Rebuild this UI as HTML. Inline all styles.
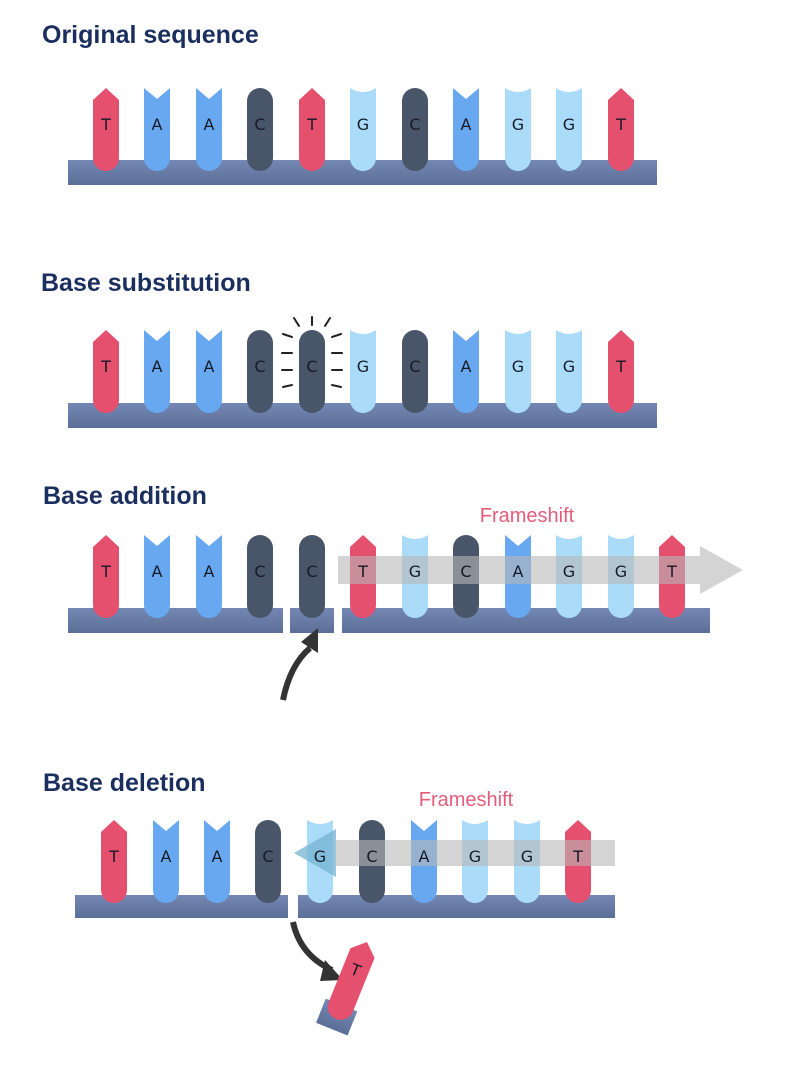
<!DOCTYPE html>
<html><head><meta charset="utf-8"><style>
html,body{margin:0;padding:0;background:#fff;}
svg{display:block}
.t{font-family:"Liberation Sans",sans-serif;font-weight:bold;font-size:25px;fill:#1b2f5e}
.l{font-family:"DejaVu Sans","Liberation Sans",sans-serif;font-size:16px;fill:#161a26;text-anchor:middle}
.f{font-family:"Liberation Sans",sans-serif;font-size:20px;fill:#e35d7a;text-anchor:middle}
</style></head><body>
<svg width="788" height="1080" viewBox="0 0 788 1080" xmlns="http://www.w3.org/2000/svg">
<defs>
<linearGradient id="bb" x1="0" y1="0" x2="0" y2="1"><stop offset="0" stop-color="#7488b3"/><stop offset="1" stop-color="#5a6e98"/></linearGradient>
<path id="T" d="M-13,12 L0,0 L13,12 L13,70 A13,13 0 0 1 -13,70 Z" fill="#e6506f"/>
<path id="A" d="M-13,0 L0,11 L13,0 L13,70 A13,13 0 0 1 -13,70 Z" fill="#67a8f0"/>
<path id="C" d="M-13,13 A13,13 0 0 1 13,13 L13,70 A13,13 0 0 1 -13,70 Z" fill="#495569"/>
<path id="G" d="M-13,0 Q0,8 13,0 L13,70 A13,13 0 0 1 -13,70 Z" fill="#aadcfa"/>
</defs>

<text class="t" x="42" y="43">Original sequence</text>
<text class="t" x="41" y="291">Base substitution</text>
<text class="t" x="43" y="504">Base addition</text>
<text class="t" x="43" y="791">Base deletion</text>

<!-- Row 1 -->
<rect x="68" y="160" width="589" height="25" fill="url(#bb)"/>
<g transform="translate(0,88)">
<use href="#T" x="106"/><use href="#A" x="157"/><use href="#A" x="209"/><use href="#C" x="260"/><use href="#T" x="312"/><use href="#G" x="363"/><use href="#C" x="415"/><use href="#A" x="466"/><use href="#G" x="518"/><use href="#G" x="569"/><use href="#T" x="621"/>
<text class="l" x="106" y="42">T</text><text class="l" x="157" y="42">A</text><text class="l" x="209" y="42">A</text><text class="l" x="260" y="42">C</text><text class="l" x="312" y="42">T</text><text class="l" x="363" y="42">G</text><text class="l" x="415" y="42">C</text><text class="l" x="466" y="42">A</text><text class="l" x="518" y="42">G</text><text class="l" x="569" y="42">G</text><text class="l" x="621" y="42">T</text>
</g>

<!-- Row 2 -->
<rect x="68" y="403" width="589" height="25" fill="url(#bb)"/>
<g transform="translate(0,330)">
<use href="#T" x="106"/><use href="#A" x="157"/><use href="#A" x="209"/><use href="#C" x="260"/><use href="#C" x="312"/><use href="#G" x="363"/><use href="#C" x="415"/><use href="#A" x="466"/><use href="#G" x="518"/><use href="#G" x="569"/><use href="#T" x="621"/>
<text class="l" x="106" y="42">T</text><text class="l" x="157" y="42">A</text><text class="l" x="209" y="42">A</text><text class="l" x="260" y="42">C</text><text class="l" x="312" y="42">C</text><text class="l" x="363" y="42">G</text><text class="l" x="415" y="42">C</text><text class="l" x="466" y="42">A</text><text class="l" x="518" y="42">G</text><text class="l" x="569" y="42">G</text><text class="l" x="621" y="42">T</text>
</g>
<g stroke="#222" stroke-width="2" stroke-linecap="round">
<line x1="294" y1="318" x2="299" y2="326"/><line x1="312" y1="317" x2="312" y2="325"/><line x1="330" y1="318" x2="325" y2="326"/>
<line x1="283" y1="334" x2="292" y2="337"/><line x1="341" y1="334" x2="332" y2="337"/>
<line x1="282" y1="353" x2="292" y2="353"/><line x1="332" y1="353" x2="342" y2="353"/>
<line x1="282" y1="370" x2="292" y2="370"/><line x1="332" y1="370" x2="342" y2="370"/>
<line x1="283" y1="387" x2="292" y2="385"/><line x1="332" y1="385" x2="341" y2="387"/>
</g>

<!-- Row 3 -->
<rect x="68" y="608" width="215" height="25" fill="url(#bb)"/>
<rect x="290" y="608" width="44" height="25" fill="url(#bb)"/>
<rect x="342" y="608" width="368" height="25" fill="url(#bb)"/>
<g transform="translate(0,535)">
<use href="#T" x="106"/><use href="#A" x="157"/><use href="#A" x="209"/><use href="#C" x="260"/><use href="#C" x="312"/><use href="#T" x="363"/><use href="#G" x="415"/><use href="#C" x="466"/><use href="#A" x="518"/><use href="#G" x="569"/><use href="#G" x="621"/><use href="#T" x="672"/>
</g>
<path d="M338,556 L700,556 L700,546 L743,570 L700,594 L700,584 L338,584 Z" fill="#b8b8b8" opacity="0.6"/>
<g transform="translate(0,535)">
<text class="l" x="106" y="42">T</text><text class="l" x="157" y="42">A</text><text class="l" x="209" y="42">A</text><text class="l" x="260" y="42">C</text><text class="l" x="312" y="42">C</text><text class="l" x="363" y="42">T</text><text class="l" x="415" y="42">G</text><text class="l" x="466" y="42">C</text><text class="l" x="518" y="42">A</text><text class="l" x="569" y="42">G</text><text class="l" x="621" y="42">G</text><text class="l" x="672" y="42">T</text>
</g>
<text class="f" x="527" y="522">Frameshift</text>
<path d="M283,700 Q290,665 310,648" stroke="#333" stroke-width="6" fill="none"/>
<path d="M301,642 L318,628 L318,653 Z" fill="#333"/>

<!-- Row 4 -->
<rect x="75" y="895" width="213" height="23" fill="url(#bb)"/>
<rect x="298" y="895" width="317" height="23" fill="url(#bb)"/>
<g transform="translate(0,820)">
<use href="#T" x="114"/><use href="#A" x="166"/><use href="#A" x="217"/><use href="#C" x="268"/><use href="#G" x="320"/><use href="#C" x="372"/><use href="#A" x="424"/><use href="#G" x="475"/><use href="#G" x="527"/><use href="#T" x="578"/>
</g>
<path d="M615,840 L336,840 L336,829 L294,853 L336,877 L336,866 L615,866 Z" fill="#b8b8b8" opacity="0.6"/>
<path d="M336,829 L294,853 L336,877 Z" fill="#3ab0e8" opacity="0.4"/>
<g transform="translate(0,820)">
<text class="l" x="114" y="42">T</text><text class="l" x="166" y="42">A</text><text class="l" x="217" y="42">A</text><text class="l" x="268" y="42">C</text><text class="l" x="320" y="42">G</text><text class="l" x="372" y="42">C</text><text class="l" x="424" y="42">A</text><text class="l" x="475" y="42">G</text><text class="l" x="527" y="42">G</text><text class="l" x="578" y="42">T</text>
</g>
<text class="f" x="466" y="806">Frameshift</text>
<path d="M293,922 Q300,955 332,970" stroke="#333" stroke-width="6" fill="none"/>
<path d="M325,960 L343,980 L320,981 Z" fill="#333"/>
<g transform="translate(367,942) rotate(22)">
<rect x="-17" y="68" width="34" height="26" fill="url(#bb)"/>
<path d="M-13,12 L0,0 L13,12 L13,70 A13,13 0 0 1 -13,70 Z" fill="#e6506f"/>
<text class="l" x="0" y="36">T</text>
</g>
</svg>
</body></html>
